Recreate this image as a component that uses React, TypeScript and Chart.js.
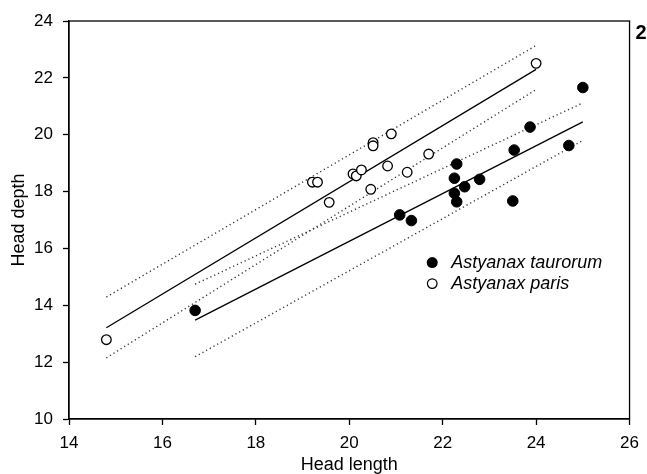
import React, { useEffect, useRef } from "react";
import { Chart, registerables } from "chart.js";

Chart.register(...registerables);

// Astyanax taurorum (filled)
const taurorumX = [16.7, 21.08, 21.33, 22.3, 22.25, 22.25, 22.3, 22.47, 22.79, 23.53, 23.5, 23.87, 24.7, 25.0];
const taurorumY = [13.82, 17.18, 16.98, 18.97, 18.47, 17.94, 17.64, 18.17, 18.43, 19.46, 17.67, 20.27, 19.62, 21.66];

// Astyanax paris (open)
const parisX = [14.8, 19.21, 19.32, 19.57, 20.08, 20.15, 20.26, 20.46, 20.51, 20.51, 20.82, 20.9, 21.24, 21.7, 24.0];
const parisY = [12.79, 18.33, 18.33, 17.62, 18.62, 18.55, 18.76, 18.08, 19.72, 19.61, 18.9, 20.03, 18.68, 19.32, 22.51];

// Regression lines and confidence bands (end points)
const parisFitX = [14.8, 24.0];
const parisFitY = [13.21, 22.3];
const parisUpperY = [14.29, 23.14];
const parisLowerY = [12.15, 21.59];

const taurorumFitX = [16.7, 25.0];
const taurorumFitY = [13.48, 20.45];
const taurorumUpperY = [14.74, 21.12];
const taurorumLowerY = [12.19, 19.8];

const xTicksMin = 14;
const xTicksMax = 26;
const yTicksMin = 10;
const yTicksMax = 24;
const tickStep = 2;

const legendLabels = ["Astyanax taurorum", "Astyanax paris"];
const panelLabel = "2";

const FONT = "Arial, 'Liberation Sans', sans-serif";

const zip = (xs: number[], ys: number[]) => xs.map((x, i) => ({ x, y: ys[i] }));

const frameAndLegend = {
  id: "frameAndLegend",
  afterDraw(chart: any) {
    const { ctx, chartArea } = chart;
    const { left, right, top, bottom } = chartArea;
    ctx.save();
    ctx.strokeStyle = "#000";
    ctx.lineWidth = 1.3;
    ctx.strokeRect(left, top, right - left, bottom - top);

    // legend inside plot
    const w = right - left;
    const h = bottom - top;
    const mx = left + 0.648 * w;
    const my = top + 0.607 * h;
    const rowGap = 21;
    ctx.font = `italic 18px ${FONT}`;
    ctx.textBaseline = "middle";
    ctx.fillStyle = "#000";
    legendLabels.forEach((label, i) => {
      const y = my + i * rowGap;
      ctx.beginPath();
      ctx.arc(mx, y, i === 0 ? 5.5 : 4.8, 0, Math.PI * 2);
      if (i === 0) {
        ctx.fillStyle = "#000";
        ctx.fill();
      } else {
        ctx.fillStyle = "#fff";
        ctx.fill();
        ctx.lineWidth = 1.2;
        ctx.strokeStyle = "#000";
        ctx.stroke();
      }
      ctx.fillStyle = "#000";
      ctx.textAlign = "left";
      ctx.fillText(label, mx + 19, y);
    });

    // panel label
    ctx.font = `bold 20px ${FONT}`;
    ctx.textAlign = "left";
    ctx.textBaseline = "middle";
    ctx.fillText(panelLabel, right + 6, top + 12);
    ctx.restore();
  },
};

export default function App() {
  const canvasRef = useRef<HTMLCanvasElement | null>(null);

  useEffect(() => {
    if (!canvasRef.current) return;
    const lineDs = (xs: number[], ys: number[], dotted: boolean) => ({
      type: "scatter" as const,
      data: zip(xs, ys),
      showLine: true,
      borderColor: dotted ? "#333" : "#000",
      borderWidth: dotted ? 1.4 : 1.3,
      borderDash: dotted ? [1.2, 3] : [],
      pointRadius: 0,
      pointHoverRadius: 0,
      fill: false,
      order: 2,
    });

    const chart = new Chart(canvasRef.current, {
      type: "scatter",
      data: {
        datasets: [
          {
            label: legendLabels[0],
            data: zip(taurorumX, taurorumY),
            pointRadius: 5.3,
            pointHoverRadius: 5.3,
            pointBackgroundColor: "#000",
            pointBorderColor: "#000",
            pointBorderWidth: 1,
            order: 0,
          },
          {
            label: legendLabels[1],
            data: zip(parisX, parisY),
            pointRadius: 4.8,
            pointHoverRadius: 4.8,
            pointBackgroundColor: "#fff",
            pointBorderColor: "#000",
            pointBorderWidth: 1.3,
            order: 0,
          },
          lineDs(parisFitX, parisFitY, false),
          lineDs(parisFitX, parisUpperY, true),
          lineDs(parisFitX, parisLowerY, true),
          lineDs(taurorumFitX, taurorumFitY, false),
          lineDs(taurorumFitX, taurorumUpperY, true),
          lineDs(taurorumFitX, taurorumLowerY, true),
        ] as any,
      },
      options: {
        animation: false,
        responsive: true,
        maintainAspectRatio: false,
        layout: { padding: { top: 21, right: 12, left: 0, bottom: 0 } },
        plugins: {
          legend: { display: false },
          tooltip: { enabled: false },
          title: { display: false },
        },
        scales: {
          x: {
            type: "linear",
            min: xTicksMin,
            max: xTicksMax,
            ticks: {
              stepSize: tickStep,
              color: "#000",
              padding: 8,
              font: { family: FONT, size: 17 },
            },
            grid: {
              drawOnChartArea: false,
              drawTicks: true,
              tickLength: 6,
              color: "#000",
              tickWidth: 1.3,
            },
            border: { color: "#000", width: 1.3 },
            title: {
              display: true,
              text: "Head length",
              color: "#000",
              font: { family: FONT, size: 18 },
              padding: { top: 0, bottom: 8 },
            },
            afterFit: (s: any) => {
              s.height = 65;
            },
          },
          y: {
            type: "linear",
            min: yTicksMin,
            max: yTicksMax,
            ticks: {
              stepSize: tickStep,
              color: "#000",
              padding: 10,
              font: { family: FONT, size: 17 },
            },
            grid: {
              drawOnChartArea: false,
              drawTicks: true,
              tickLength: 6,
              color: "#000",
              tickWidth: 1.3,
            },
            border: { color: "#000", width: 1.3 },
            title: {
              display: true,
              text: "Head depth",
              color: "#000",
              font: { family: FONT, size: 18 },
              padding: { top: 8, bottom: 0 },
            },
            afterFit: (s: any) => {
              s.width = 69;
            },
          },
        },
      },
      plugins: [frameAndLegend],
    });
    return () => chart.destroy();
  }, []);

  return (
    <div
      style={{
        position: "fixed",
        left: 0,
        top: 0,
        width: 647,
        height: 474,
        overflow: "hidden",
        background: "#fff",
      }}
    >
      <div style={{ position: "relative", width: 647, height: 484 }}>
        <canvas ref={canvasRef} />
      </div>
    </div>
  );
}
